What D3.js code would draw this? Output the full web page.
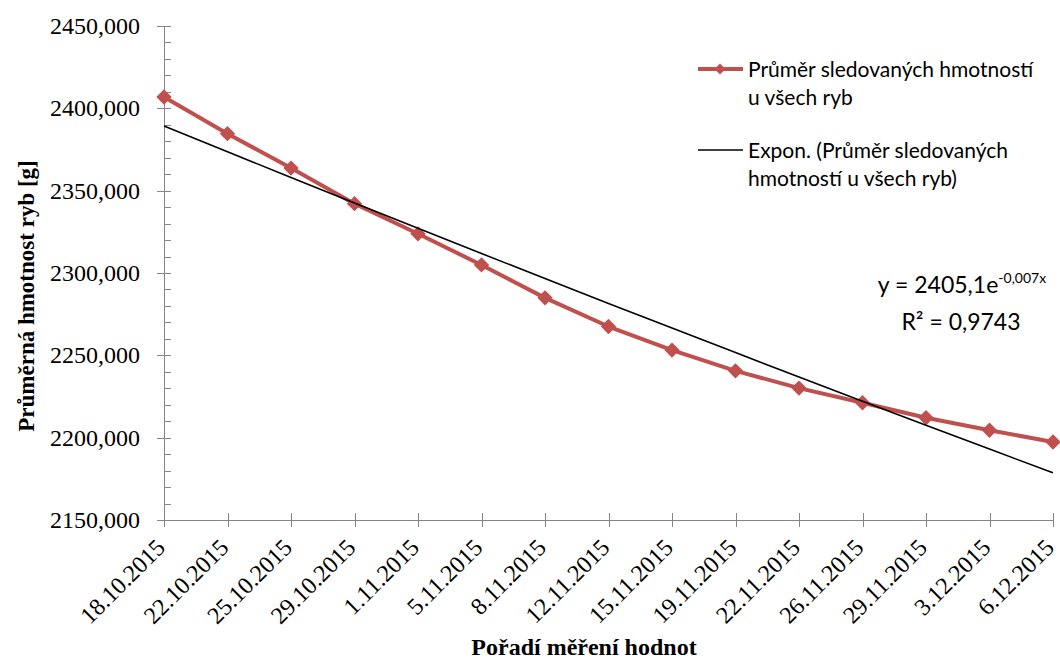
<!DOCTYPE html>
<html><head><meta charset="utf-8">
<script src="https://cdn.jsdelivr.net/npm/d3@7"></script>
<style>
html,body{margin:0;padding:0;background:#fff;}
svg{display:block;}
</style></head>
<body>
<svg id="chart" width="1060" height="659"></svg>
<script>
const categories = ["18.10.2015","22.10.2015","25.10.2015","29.10.2015","1.11.2015","5.11.2015","8.11.2015","12.11.2015","15.11.2015","19.11.2015","22.11.2015","26.11.2015","29.11.2015","3.12.2015","6.12.2015"];
const values = [2406.9, 2384.6, 2363.7, 2342.1, 2323.8, 2304.9, 2284.9, 2267.5, 2253.2, 2240.6, 2230.1, 2221.2, 2212.1, 2204.5, 2197.4];
const yTicks = [2150, 2200, 2250, 2300, 2350, 2400, 2450];
const seriesName = ["Průměr sledovaných hmotností", "u všech ryb"];
const trendName = ["Expon. (Průměr sledovaných", "hmotností u všech ryb)"];
const eqBase = "y = 2405,1e";
const eqExp = "-0,007x";
const r2Text = "R² = 0,9743";
const yTitle = "Průměrná hmotnost ryb [g]";
const xTitle = "Pořadí měření hodnot";

(function(){
const svg = d3.select("#chart");
const pLeft = 164, pRight = 1053, pTop = 26, pBottom = 520;
const x = d3.scalePoint().domain(d3.range(categories.length)).range([pLeft, pRight]);
const y = d3.scaleLinear().domain([2150, 2450]).range([pBottom, pTop]);
const axisColor = "#868686";
const red = "#C0504D";
const serif = "'Liberation Serif','Times New Roman',serif";
const sans = "Lato,'Open Sans',sans-serif";

// Y axis
const fmt = v => v.toFixed(3).replace(".", ",");
const yAxis = svg.append("g").attr("transform", `translate(${pLeft},0)`);
yAxis.append("line").attr("x1",0.5).attr("x2",0.5).attr("y1",y(2150)).attr("y2",y(2450)).attr("stroke",axisColor).attr("stroke-width",1);
const minor = d3.range(2150, 2451, 10).filter(v => v % 50 !== 0);
yAxis.selectAll("line.minor").data(minor).join("line").attr("class","minor")
  .attr("x1",0).attr("x2",7).attr("y1",d=>Math.round(y(d))+0.5).attr("y2",d=>Math.round(y(d))+0.5).attr("stroke",axisColor);
yAxis.selectAll("line.major").data(yTicks).join("line").attr("class","major")
  .attr("x1",-7).attr("x2",7).attr("y1",d=>Math.round(y(d))+0.5).attr("y2",d=>Math.round(y(d))+0.5).attr("stroke",axisColor);
yAxis.selectAll("text").data(yTicks).join("text")
  .attr("x",-24).attr("y",d=>y(d)).attr("dy","0.33em").attr("text-anchor","end")
  .attr("font-family",serif).attr("font-size",24).attr("fill","#000").text(fmt);

// X axis
const xAxis = svg.append("g");
xAxis.append("line").attr("x1",pLeft).attr("x2",pRight).attr("y1",pBottom+0.5).attr("y2",pBottom+0.5).attr("stroke",axisColor);
xAxis.selectAll("line.t").data(d3.range(categories.length)).join("line").attr("class","t")
  .attr("x1",d=>Math.round(x(d))+0.5).attr("x2",d=>Math.round(x(d))+0.5).attr("y1",pBottom-7).attr("y2",pBottom+7).attr("stroke",axisColor);
xAxis.selectAll("text").data(d3.range(categories.length)).join("text")
  .attr("transform",d=>`translate(${x(d)-3.5},${pBottom+23}) rotate(-45)`)
  .attr("text-anchor","end").attr("dy","0.35em")
  .attr("font-family",serif).attr("font-size",24).attr("fill","#000").text(d=>categories[d]);

// Exponential trend (least squares on ln y)
const xs = d3.range(1, values.length+1);
const ly = values.map(Math.log);
const mx = d3.mean(xs), my = d3.mean(ly);
const b = d3.sum(xs.map((xi,i)=>(xi-mx)*(ly[i]-my))) / d3.sum(xs.map(xi=>(xi-mx)*(xi-mx)));
const a = Math.exp(my - b*mx);
const trendPts = xs.map((xi,i)=>[x(i), y(a*Math.exp(b*xi))]);

// Series
svg.append("path").datum(values).attr("fill","none").attr("stroke",red).attr("stroke-width",4).attr("stroke-linejoin","round")
  .attr("d", d3.line().x((d,i)=>x(i)).y(d=>y(d)));
const sym = d3.symbol().type(d3.symbolSquare).size(118);
svg.selectAll("path.mk").data(values).join("path").attr("class","mk")
  .attr("transform",(d,i)=>`translate(${x(i)},${y(d)}) rotate(45)`).attr("d",sym).attr("fill",red);

svg.append("path").datum(trendPts).attr("fill","none").attr("stroke","#000").attr("stroke-width",1.6)
  .attr("d", d3.line().curve(d3.curveNatural));

// Legend
const lg = svg.append("g");
lg.append("line").attr("x1",698).attr("x2",743).attr("y1",69).attr("y2",69).attr("stroke",red).attr("stroke-width",4);
lg.append("path").attr("transform","translate(720,69) rotate(45)").attr("d",d3.symbol().type(d3.symbolSquare).size(60)).attr("fill",red);
lg.selectAll("text.s").data(seriesName).join("text").attr("class","s")
  .attr("x",748).attr("y",(d,i)=>69+i*28).attr("dy","0.36em").attr("font-family",sans).attr("font-size",21).attr("fill","#000").text(d=>d);
lg.append("line").attr("x1",698).attr("x2",743).attr("y1",150).attr("y2",150).attr("stroke","#000").attr("stroke-width",1.6);
lg.selectAll("text.t").data(trendName).join("text").attr("class","t")
  .attr("x",748).attr("y",(d,i)=>150+i*28).attr("dy","0.36em").attr("font-family",sans).attr("font-size",21).attr("fill","#000").text(d=>d);

// Equation
const eq = svg.append("text").attr("x",962).attr("y",285).attr("dy","0.36em").attr("text-anchor","middle").attr("font-family",sans).attr("font-size",23).attr("fill","#000");
eq.append("tspan").text(eqBase);
eq.append("tspan").attr("font-size",14).attr("dy","-0.75em").text(eqExp);
svg.append("text").attr("x",961).attr("y",322).attr("dy","0.36em").attr("text-anchor","middle").attr("font-family",sans).attr("font-size",23).attr("fill","#000").text(r2Text);

// Titles
svg.append("text").attr("transform",`translate(34,296) rotate(-90)`).attr("text-anchor","middle")
  .attr("font-family",serif).attr("font-weight","bold").attr("font-size",23).attr("fill","#000").text(yTitle);
svg.append("text").attr("x",584).attr("y",655).attr("text-anchor","middle")
  .attr("font-family",serif).attr("font-weight","bold").attr("font-size",24).attr("fill","#000").text(xTitle);
})();
</script>
</body></html>
